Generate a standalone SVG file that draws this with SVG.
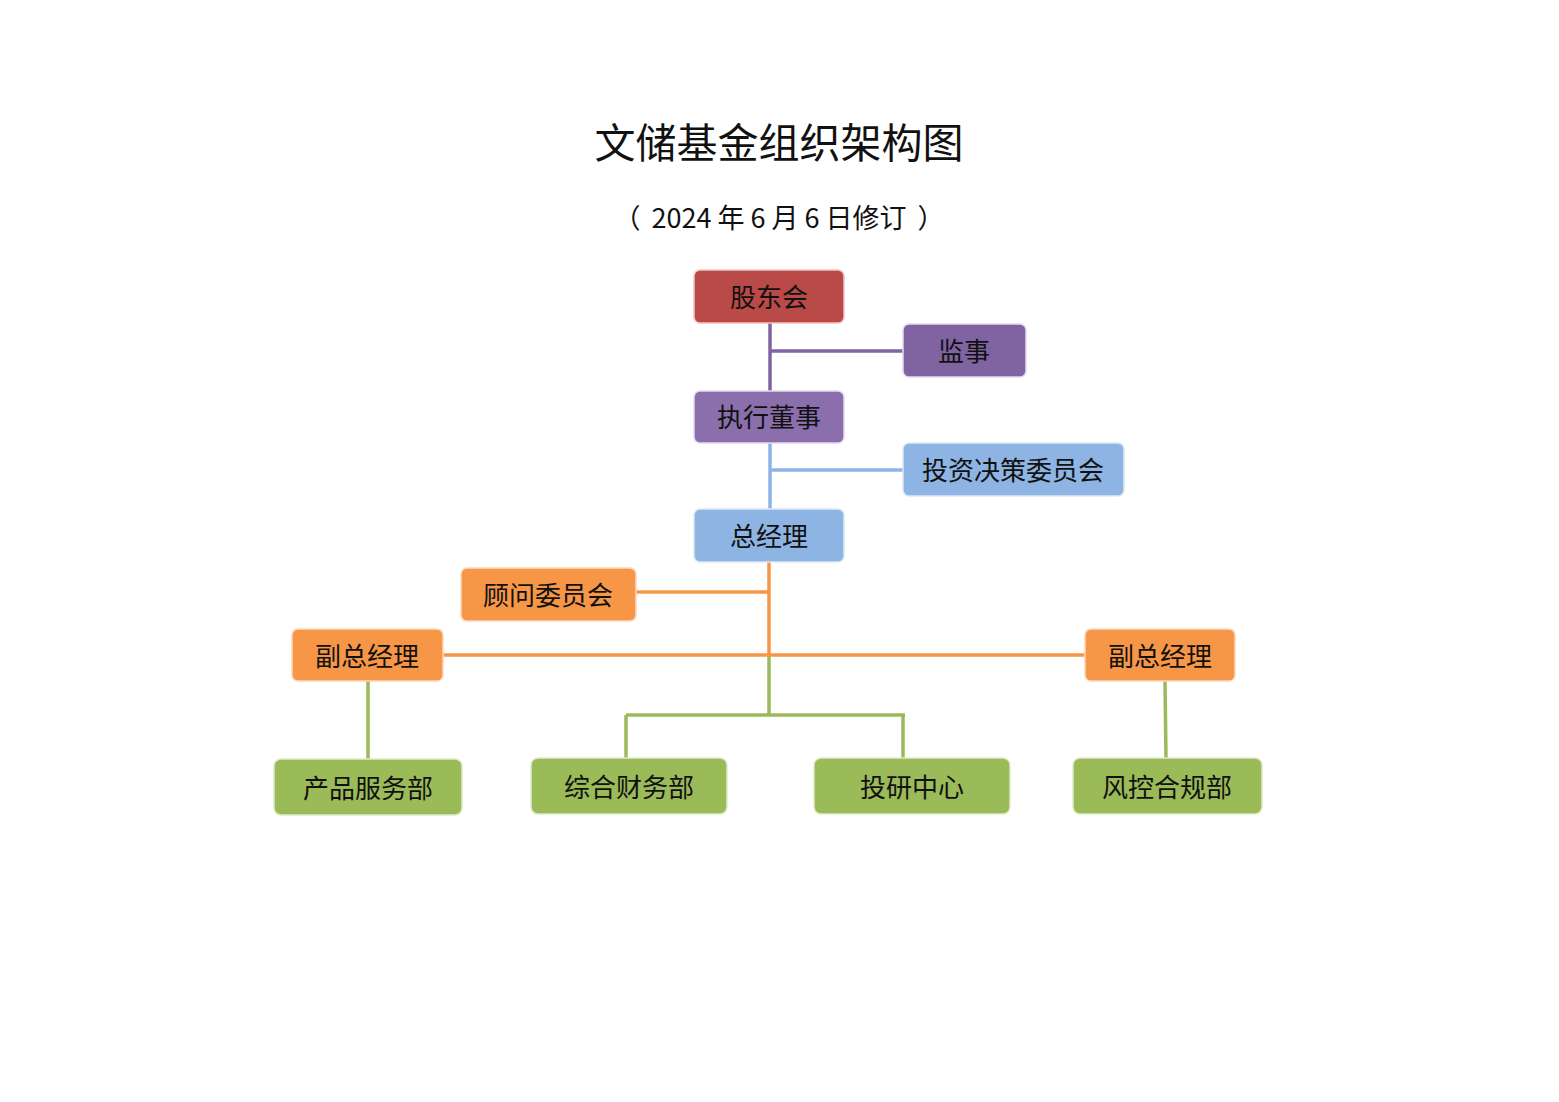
<svg xmlns="http://www.w3.org/2000/svg" width="1559" height="1102" viewBox="0 0 1559 1102">
<style>
text{font-family:"Noto Sans CJK SC","Noto Sans",sans-serif;fill:#111;}
.lbl{font-size:26px;text-anchor:middle;dominant-baseline:central;}
.box{stroke-width:1.5;}
.red{fill:#B94A48;stroke:#F2C4C4;}
.pur{fill:#8064A2;stroke:#E6D8F0;}
.blu{fill:#8EB4E3;stroke:#DCE8F6;}
.org{fill:#F79646;stroke:#FBD9BE;}
.grn{fill:#9BBB59;stroke:#E0ECCB;}
.c{fill:none;stroke-width:3.5;}
</style>
<rect width="1559" height="1102" fill="#fff"/>
<text x="779" y="158" font-size="41" text-anchor="middle">文储基金组织架构图</text>
<g font-size="27" text-anchor="middle">
<text x="627" y="228">（</text>
<text x="779" y="228">2024 年 6 月 6 日修订</text>
<text x="931" y="228">）</text>
</g>
<g id="connectors">
<path class="c" stroke="#8064A2" d="M770 323V391M770 351H903"/>
<path class="c" stroke="#8EB4E3" d="M770 443V509M770 470H903"/>
<path class="c" stroke="#F79646" d="M769 562V655M636 592H769M443 655H1085"/>
<path class="c" stroke="#9BBB59" d="M769 656V715M626 715H905M626 715V758M903 715V758M368 681V759M1165 681L1166 758"/>
</g>
<g id="n1"><rect class="box red" x="694" y="270" width="150" height="53" rx="6"/><text class="lbl" x="769" y="295">股东会</text></g>
<g id="n2"><rect class="box pur" x="903" y="324" width="123" height="53" rx="6"/><text class="lbl" x="964" y="349">监事</text></g>
<g id="n3"><rect class="box pur" x="694" y="391" width="150" height="52" rx="6" style="fill:#8A6FAC"/><text class="lbl" x="769" y="415">执行董事</text></g>
<g id="n4"><rect class="box blu" x="903" y="443" width="221" height="53" rx="6"/><text class="lbl" x="1013" y="468">投资决策委员会</text></g>
<g id="n5"><rect class="box blu" x="694" y="509" width="150" height="53" rx="6"/><text class="lbl" x="769" y="534">总经理</text></g>
<g id="n6"><rect class="box org" x="461" y="568" width="175" height="53" rx="6"/><text class="lbl" x="548" y="593">顾问委员会</text></g>
<g id="n7"><rect class="box org" x="292" y="629" width="151" height="52" rx="6"/><text class="lbl" x="367" y="654">副总经理</text></g>
<g id="n8"><rect class="box org" x="1085" y="629" width="150" height="52" rx="6"/><text class="lbl" x="1160" y="654">副总经理</text></g>
<g id="n9"><rect class="box grn" x="274" y="759" width="188" height="56" rx="7"/><text class="lbl" x="368" y="786">产品服务部</text></g>
<g id="n10"><rect class="box grn" x="531" y="758" width="196" height="56" rx="7"/><text class="lbl" x="629" y="785">综合财务部</text></g>
<g id="n11"><rect class="box grn" x="814" y="758" width="196" height="56" rx="7"/><text class="lbl" x="912" y="785">投研中心</text></g>
<g id="n12"><rect class="box grn" x="1073" y="758" width="189" height="56" rx="7"/><text class="lbl" x="1167" y="785">风控合规部</text></g>
</svg>
